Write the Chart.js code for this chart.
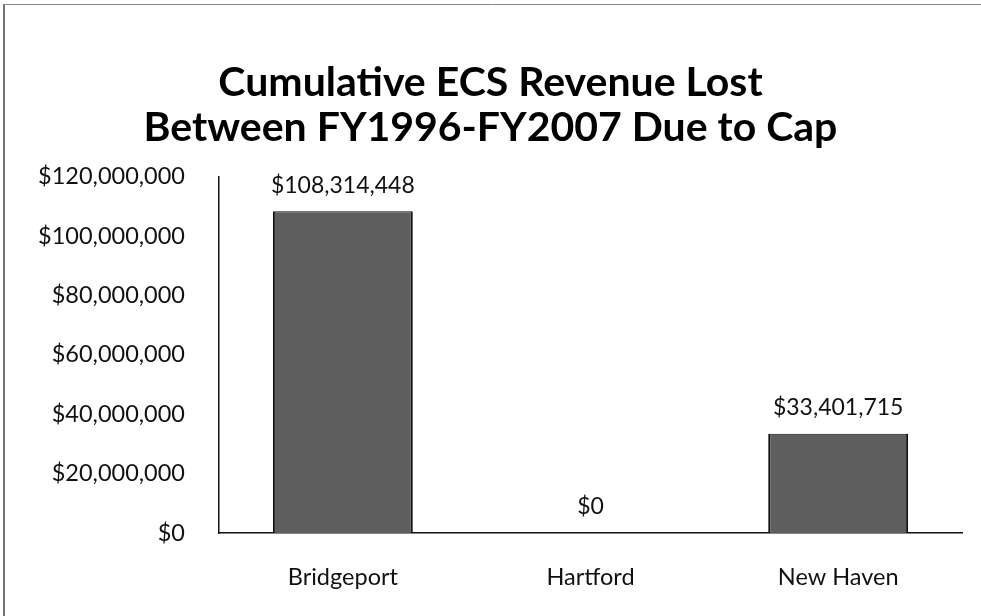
<!DOCTYPE html>
<html>
<head>
<meta charset="utf-8">
<script src="https://cdn.jsdelivr.net/npm/chart.js@4"></script>
<style>
    html, body { margin: 0; padding: 0; background: #fff; }
    #wrap { width: 981px; height: 616px; position: relative; }
</style>
</head>
<body>
<div id="wrap"><canvas id="ecs-chart" width="981" height="616"></canvas></div>
<script>
const districts   = ['Bridgeport', 'Hartford', 'New Haven']
const revenueLost = [108314448, 0, 33401715]
const yTicks      = [0, 20000000, 40000000, 60000000, 80000000, 100000000, 120000000]
const titleLines  = ['Cumulative ECS Revenue Lost', 'Between FY1996-FY2007 Due to Cap']

const FONT = 'Lato, "Liberation Sans", sans-serif'
const money = v => '$' + Number(v).toLocaleString('en-US')

// outer frame of the scanned chart (left and top edges only show)
const framePlugin = {
    id: 'frame',
    beforeDraw: chart => {
        const ctx = chart.ctx
        ctx.save()
        ctx.fillStyle = '#fff'
        ctx.fillRect(0, 0, chart.width, chart.height)
        ctx.strokeStyle = '#444'
        ctx.lineWidth = 1.5
        ctx.beginPath()
        ctx.moveTo(4, chart.height)
        ctx.lineTo(4, 4)
        ctx.stroke()
        ctx.strokeStyle = '#888'
        ctx.lineWidth = 1
        ctx.beginPath()
        ctx.moveTo(4, 4.5)
        ctx.lineTo(chart.width, 4.5)
        ctx.stroke()
        ctx.restore()
    }
}

const valueLabels = {
    id: 'valueLabels',
    afterDatasetsDraw: chart => {
        const ctx = chart.ctx
        const meta = chart.getDatasetMeta(0)
        ctx.save()
        ctx.font = `23px ${FONT}`
        ctx.fillStyle = '#111'
        ctx.textAlign = 'center'
        ctx.textBaseline = 'middle'
        meta.data.forEach((bar, i) => {
            ctx.fillText(money(revenueLost[i]), bar.x, bar.y - 26)
        })
        ctx.restore()
    }
}

const renderChart = () => {
    const canvasEl = document.getElementById('ecs-chart')
    new Chart(canvasEl.getContext('2d'), {
        type: 'bar',
        data: {
            labels: districts,
            datasets: [{
                data: revenueLost,
                backgroundColor: '#5e5e5e',
                borderColor: '#111',
                borderWidth: { left: 2, right: 2, top: 1, bottom: 0 },
                categoryPercentage: 1,
                barPercentage: 0.565
            }]
        },
        options: {
            responsive: false,
            animation: false,
            layout: { padding: { left: 19, right: 19, top: 61, bottom: 0 } },
            plugins: {
                legend: { display: false },
                tooltip: { enabled: false },
                title: {
                    display: true,
                    text: titleLines,
                    color: '#000',
                    font: { family: FONT, size: 41, weight: 'bold', lineHeight: 1.08 },
                    padding: { top: 0, bottom: 27 }
                }
            },
            scales: {
                x: {
                    grid: { display: false, drawTicks: false },
                    border: { display: true, color: '#111', width: 1.5 },
                    ticks: { color: '#111', font: { family: FONT, size: 23.5 }, padding: 30 },
                    afterFit: scale => { scale.height = 83 }
                },
                y: {
                    min: 0,
                    max: 120000000,
                    afterBuildTicks: scale => { scale.ticks = yTicks.map(value => ({ value })) },
                    grid: { display: false, drawTicks: false },
                    border: { display: true, color: '#111', width: 1.5 },
                    ticks: { color: '#111', font: { family: FONT, size: 23.5 }, padding: 34, callback: v => money(v) },
                    afterFit: scale => { scale.width = 200 }
                }
            }
        },
        plugins: [framePlugin, valueLabels]
    })
}

document.addEventListener('DOMContentLoaded', renderChart, false)
</script>
</body>
</html>
